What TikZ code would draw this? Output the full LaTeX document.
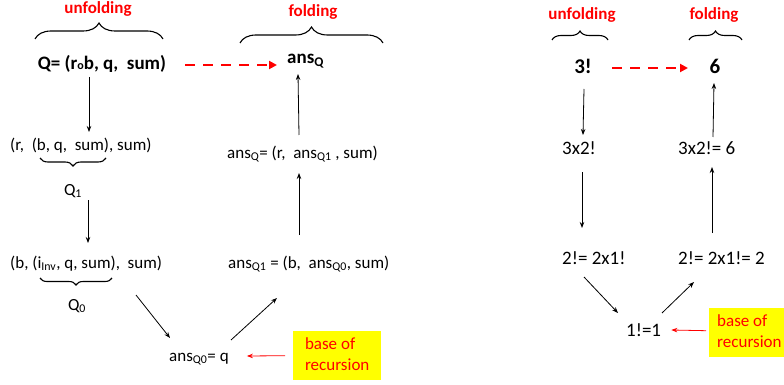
\documentclass[tikz,border=0pt]{standalone}
\usepackage{fontspec}
\setmainfont{Carlito}
\usetikzlibrary{arrows.meta,decorations.pathreplacing,calc}
\definecolor{rd}{RGB}{255,0,0}
\definecolor{yl}{RGB}{255,255,0}
\newcommand\sbs[1]{\textsubscript{#1}}
\begin{document}
\begin{tikzpicture}[x=1pt,y=-1pt,
  lt/.style={inner sep=0pt,font=\fontsize{17}{20}\selectfont,anchor=base west},
  ltb/.style={inner sep=0pt,font=\fontsize{19}{22}\selectfont\bfseries,anchor=base},
  rt/.style={inner sep=0pt,font=\fontsize{19}{22}\selectfont,anchor=base west},
  rtb/.style={inner sep=0pt,font=\fontsize{21}{24}\selectfont\bfseries,anchor=base},
  hd/.style={inner sep=0pt,font=\fontsize{17}{20}\selectfont\bfseries,text=rd,anchor=base},
  arr/.style={line width=0.8pt,-{Stealth[length=6pt,width=4.5pt]}},
  redarr/.style={line width=0.8pt,draw=rd,-{Stealth[length=6pt,width=4.5pt]}},
  dasharr/.style={line width=2.2pt,draw=rd,dash pattern=on 10pt off 8pt,-{Triangle[length=8pt,width=8pt]}},
  brc/.style={line width=1.1pt,decorate,decoration={brace,amplitude=#1}},
  basebox/.style={fill=yl,inner xsep=5pt,inner ysep=0pt,align=left,anchor=north west,
     font=\fontsize{17}{21}\selectfont,text=rd,minimum height=49pt,text depth=3pt}]
\useasboundingbox (0,0) rectangle (784,385);

% ---------- left panel ----------
\node[hd] (ul) at (98,14) {unfolding};
\node[hd] (fl) at (313,17) {folding};
\draw[brc=16pt] (35,39) -- (163,39);
\draw[brc=16pt] (240,43) -- (383,43);

\node[ltb] (Q) at (102,70) {Q= (r{\fontsize{12}{12}\selectfont o}b, q,~ sum)};
\node[ltb,anchor=base west] (ansQ) at (287,64) {ans\sbs{Q}};

\node[lt] (R1) at (10,150) {(r,~ (b, q,~ sum), sum)};
\draw[brc=8pt] (106,158) -- (40,158);
\node[lt,anchor=base] (Q1) at (73,195) {Q\sbs{1}};

\node[lt] (R0) at (10,268) {(b, (i\sbs{Inv}, q, sum),~ sum)};
\draw[brc=7pt] (112,278) -- (40,278);
\node[lt,anchor=base] (Q0) at (77,310) {Q\sbs{0}};

\node[lt] (base) at (169,361) {ans\sbs{Q0}= q};
\node[lt] (A0) at (228,268) {ans\sbs{Q1} = (b,~ ans\sbs{Q0}, sum)};
\node[lt] (A1) at (227,158) {ans\sbs{Q}= (r,~ ans\sbs{Q1} , sum)};

\node[basebox,minimum width=88pt] (bl) at (293,331) {base of\\recursion};

\draw[arr] ($(Q.base)+(-13,7)$) -- ($(R1.base west)+(79,-18)$);
\draw[arr] ($(Q1.base)+(15,5)$) -- ($(R0.base west)+(78,-25)$);
\draw[arr] ($(R0.base west)+(126,27)$) -- ($(base.base west)+(1,-23)$);
\draw[arr] ($(base.base west)+(62,-21)$) -- ($(A0.base west)+(49,30)$);
\draw[arr] ($(A0.base west)+(71,-33)$) -- ($(A1.base west)+(72,15)$);
\draw[arr] ($(A1.base west)+(72,-23)$) -- ($(ansQ.base west)+(11,10)$);
\draw[dasharr] ($(Q.base)+(83,-5)$) -- ($(ansQ.base west)+(-10,1)$);
\draw[redarr] ($(bl.west)+(-8,0)$) -- ($(base.base east)+(18,-5)$);

% ---------- right panel ----------
\node[hd] (ur) at (582,20) {unfolding};
\node[hd] (fr) at (714,20) {folding};
\draw[brc=9pt] (552,40) -- (608,40);
\draw[brc=9pt] (689,40) -- (742,40);

\node[rtb] (n3) at (583,74) {3!};
\node[rtb] (n6) at (715,74) {6};
\node[rt] (m3) at (562,154) {3x2!};
\node[rt] (p3) at (678,154) {3x2!= 6};
\node[rt] (m2) at (562,264) {2!= 2x1!};
\node[rt] (p2) at (678,264) {2!= 2x1!= 2};
\node[rt] (m1) at (626,336) {1!=1};

\node[basebox,minimum width=75pt,inner xsep=8pt] (br) at (709,308) {base of\\recursion};

\draw[arr] ($(n3.base)+(1,15)$) -- ($(m3.base west)+(21,-19)$);
\draw[arr] ($(m3.base west)+(20,18)$) -- ($(m2.base west)+(20,-36)$);
\draw[arr] ($(m2.base west)+(22,13)$) -- ($(m1.base west)+(-8,-23)$);
\draw[arr] ($(m1.base west)+(36,-23)$) -- ($(p2.base west)+(16,18)$);
\draw[arr] ($(p2.base west)+(34,-31)$) -- ($(p3.base west)+(34,13)$);
\draw[arr] ($(p3.base west)+(35,-17)$) -- ($(n6.base)+(-1,9)$);
\draw[dasharr] ($(n3.base)+(29,-6)$) -- ($(n6.base)+(-27,-6)$);
\draw[redarr] ($(br.west)+(-3,-2)$) -- ($(m1.base east)+(10,-6)$);
\end{tikzpicture}
\end{document}
